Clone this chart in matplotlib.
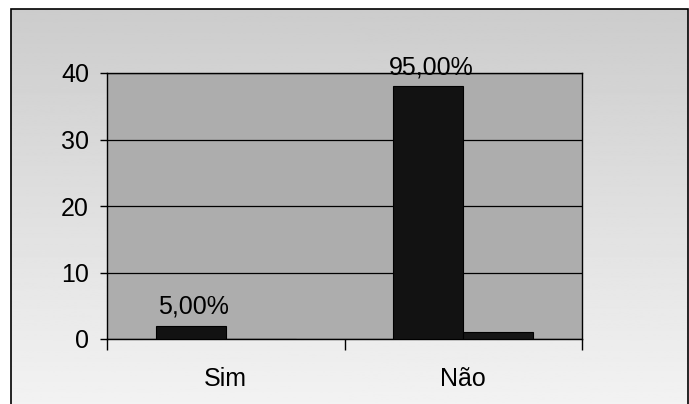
import numpy as np
import matplotlib
matplotlib.use("Agg")
import matplotlib.pyplot as plt
from matplotlib.patches import Rectangle

categories = ["Sim", "Não"]
series1 = [2, 38]
series2 = [0, 1]
labels1 = ["5,00%", "95,00%"]
yticks = [0, 10, 20, 30, 40]

plt.rcParams['font.family'] = ['Liberation Sans', 'DejaVu Sans']

W, H = 689, 404
fig = plt.figure(figsize=(W / 100, H / 100), dpi=100)
fig.patch.set_facecolor("white")

# background panel (chart area) with soft vertical gradient
bx0, by0, bx1, by1 = 11 / W, 0.0, 688 / W, 1 - 9 / H
bg = fig.add_axes([bx0, by0, bx1 - bx0, by1 - by0], zorder=0)
grad = np.linspace(0.80, 0.95, 256).reshape(-1, 1)
bg.imshow(grad, cmap="gray", vmin=0, vmax=1, aspect="auto",
          extent=[0, 1, 0, 1], origin="upper")
bg.set_xlim(0, 1)
bg.set_ylim(0, 1)
bg.axis("off")
fig.add_artist(Rectangle((bx0, -0.05), bx1 - bx0, by1 + 0.05,
                         transform=fig.transFigure, fill=False,
                         edgecolor="black", linewidth=1.2, zorder=5))

# main plot area
ax = fig.add_axes([107 / W, 65 / H, 475 / W, 266 / H], zorder=1)
ax.set_facecolor("#adadad")
x = np.arange(len(categories))
bw = 0.295
ax.bar(x - bw / 2, series1, width=bw, color="#121212", edgecolor="black",
       linewidth=0.8, zorder=3)
ax.bar(x + bw / 2, series2, width=bw, color="#151515", edgecolor="black",
       linewidth=0.8, zorder=3)
for xi, v, lab in zip(x, series1, labels1):
    ax.annotate(lab, (xi - bw / 2, v), xytext=(2, 5), textcoords="offset points",
                ha="center", va="bottom", fontsize=18, color="black", zorder=4)

ax.set_ylim(0, 40)
ax.set_xlim(-0.5, len(categories) - 0.5)
ax.set_yticks(yticks)
ax.set_yticklabels([str(t) for t in yticks], fontsize=18)
ax.yaxis.grid(True, color="black", linewidth=0.9, zorder=1)
ax.set_axisbelow(True)
ax.tick_params(axis="y", length=5, width=1, pad=8, direction="out")

ax.set_xticks([-0.5, 0.5, 1.5])
ax.set_xticklabels([])
ax.set_xticks(x, minor=True)
ax.set_xticklabels(categories, minor=True, fontsize=18)
ax.tick_params(axis="x", which="major", length=8, width=1, direction="out")
ax.tick_params(axis="x", which="minor", length=0, pad=20)

for s in ax.spines.values():
    s.set_color("black")
    s.set_linewidth(1.0)

fig.savefig("out.png", dpi=100)
